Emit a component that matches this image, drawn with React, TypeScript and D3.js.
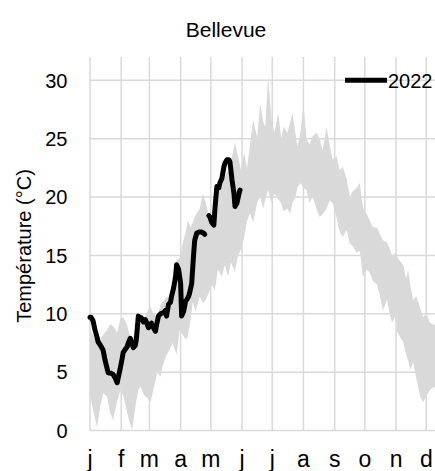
import React from "react";
import * as d3 from "d3";

// ---- data ----
const title = "Bellevue";
const yLabel = "Température (°C)";
const seriesName = "2022";
const monthLabels = ["j", "f", "m", "a", "m", "j", "j", "a", "s", "o", "n", "d"];
const yTicks = [0, 5, 10, 15, 20, 25, 30];

// climatology band (day of year, min, max)
const bandDay = [1, 4, 8, 11, 14, 18, 21, 24, 28, 31, 34, 38, 41, 43, 46, 49, 51, 55, 58, 61, 64, 68, 71, 73, 77, 80, 83, 87, 90, 93, 96, 98, 101, 103, 106, 110, 113, 116, 119, 122, 125, 128, 132, 135, 138, 141, 145, 148, 151, 154, 157, 160, 163, 167, 170, 173, 175, 178, 181, 184, 188, 191, 193, 197, 200, 202, 205, 207, 210, 213, 216, 219, 222, 226, 229, 232, 236, 239, 242, 246, 249, 252, 256, 259, 262, 266, 269, 272, 276, 279, 282, 286, 289, 292, 296, 299, 301, 304, 306, 309, 312, 315, 317, 319, 322, 325, 329, 332, 335, 339, 344, 349, 355, 365];
const bandHigh = [8.6, 8.2, 7.8, 7.8, 8.2, 8.6, 9.1, 8.9, 8.4, 9.5, 9.7, 9.0, 8.0, 7.8, 8.5, 9.8, 10.1, 9.5, 10.2, 10.6, 10.0, 9.7, 10.8, 11.0, 11.4, 11.5, 12.5, 14.6, 14.8, 16.0, 17.0, 18.0, 17.4, 17.8, 18.5, 19.0, 20.3, 19.5, 18.4, 18.3, 19.5, 20.5, 20.8, 21.8, 22.2, 23.0, 24.7, 23.5, 22.3, 23.8, 22.5, 24.5, 26.6, 25.1, 28.0, 26.5, 26.0, 30.4, 26.8, 25.5, 27.2, 25.0, 26.0, 25.5, 26.5, 27.2, 25.5, 24.3, 25.5, 28.0, 25.0, 24.5, 25.2, 25.5, 25.0, 24.0, 26.0, 24.5, 23.2, 23.5, 22.3, 22.6, 21.5, 20.0, 20.5, 20.8, 21.2, 19.1, 18.5, 18.0, 17.4, 17.4, 16.8, 16.3, 16.1, 15.5, 15.0, 15.2, 14.9, 14.5, 14.2, 13.0, 13.8, 12.5, 11.2, 11.5, 10.5, 9.7, 10.0, 9.2, 9.0, 8.5, 8.3, 8.0];
const bandLow = [3.0, 1.8, 0.3, 2.0, 3.2, 2.9, 1.5, 0.9, 2.5, 3.4, 3.0, 1.5, 0.5, 0.1, 2.0, 3.5, 3.8, 3.0, 2.8, 2.4, 3.5, 5.0, 4.6, 5.5, 6.5, 6.9, 7.5, 6.5, 8.6, 8.2, 7.8, 8.0, 9.5, 11.0, 10.2, 11.5, 10.9, 11.2, 11.8, 12.5, 12.0, 13.8, 13.2, 14.2, 13.2, 14.4, 13.6, 15.0, 15.5, 16.5, 18.0, 18.6, 17.8, 19.5, 20.0, 19.0, 19.8, 20.6, 19.5, 20.3, 19.8, 19.5, 18.8, 19.0, 18.6, 19.5, 20.0, 20.8, 21.2, 20.8, 20.6, 19.5, 20.0, 19.0, 18.3, 18.5, 19.0, 19.7, 19.5, 18.2, 17.0, 16.6, 17.2, 16.0, 15.8, 15.2, 15.4, 13.2, 13.8, 13.5, 12.8, 12.5, 11.5, 10.3, 11.2, 9.8, 9.2, 9.8, 8.5, 8.0, 7.6, 6.5, 6.0, 5.2, 5.8, 4.5, 2.9, 2.4, 3.0, 3.5, 3.8, 3.0, 2.8, 2.5];

// 2022 daily mean (day of year, value; null = missing)
const obsDay = [1, 2, 4, 6, 8, 9, 11, 14, 16, 18, 19, 22, 24, 26, 28, 29, 31, 33, 34, 38, 39, 41, 42, 44, 46, 47, 49, 51, 52, 54, 56, 57, 59, 61, 62, 64, 66, 67, 69, 71, 74, 76, 77, 79, 81, 82, 84, 86, 87, 89, 91, 92, 94, 96, 97, 99, 100, 102, 104, 105, 107, 109, 112, 114, 115, 117, 119, 120, 122, 124, 125, 127, 129, 130, 132, 134, 135, 137, 139, 140, 142, 144, 145, 147, 149, 150];
const obsValue: (number | null)[] = [9.7, 9.7, 9.4, 8.6, 8.0, 7.6, 7.35, 6.9, 6.0, 5.3, 4.95, 4.9, 4.8, 4.5, 4.1, 4.5, 5.3, 6.2, 6.7, 7.2, 7.5, 7.9, 7.6, 7.1, 7.3, 7.8, 9.8, 9.6, 9.65, 9.3, 9.5, 9.3, 8.8, 9.0, 9.2, 8.8, 8.5, 9.0, 9.8, 10.0, 10.1, 10.3, 9.8, 10.8, 11.0, 11.5, 12.2, 13.2, 14.2, 13.8, 12.6, 9.8, 10.2, 11.1, 11.2, 11.5, 11.8, 12.6, 15.2, 16.3, 16.9, 17.0, 17.0, 16.9, 16.8, null, 18.4, 18.3, 17.8, 17.6, 18.9, 20.9, 20.8, 21.2, 21.6, 22.6, 22.9, 23.2, 23.2, 23.0, 21.5, 20.3, 19.2, 19.5, 20.3, 20.6];

const W = 435;
const H = 471;
const FONT = '"Liberation Sans", Arial, Helvetica, sans-serif';

export default function App() {
  const x = d3.scaleLinear().domain([1, 366]).range([90, 457.5]);
  const y = d3.scaleLinear().domain([0, 32]).range([430.5, 57]);
  const monthStarts = d3.utcMonths(new Date(Date.UTC(2022, 0, 1)), new Date(Date.UTC(2023, 0, 1)));
  const dayOf = (d: Date) => d3.utcDay.count(new Date(Date.UTC(2022, 0, 1)), d) + 1;

  const band = bandDay.map((d, i) => ({ d, lo: bandLow[i], hi: bandHigh[i] }));
  const area = d3
    .area<{ d: number; lo: number; hi: number }>()
    .x((p) => x(p.d))
    .y0((p) => y(p.lo))
    .y1((p) => y(p.hi));

  const obs = obsDay.map((d, i) => ({ d, v: obsValue[i] }));
  const line = d3
    .line<{ d: number; v: number | null }>()
    .defined((p) => p.v !== null)
    .x((p) => x(p.d))
    .y((p) => y(p.v as number));

  const grid = "#d9d9d9";

  return (
    <svg
      width={W}
      height={H}
      style={{ position: "absolute", left: 0, top: 0, background: "#fff" }}
      fontFamily={FONT}
    >
      <rect x={0} y={0} width={W} height={H} fill="#fff" />
      <text x={226} y={37} textAnchor="middle" fontSize={21} fill="#000">
        {title}
      </text>
      {/* grid */}
      {yTicks.map((t) => (
        <line key={"h" + t} x1={90} x2={W} y1={y(t)} y2={y(t)} stroke={grid} strokeWidth={1.5} />
      ))}
      {monthStarts.map((m, i) => (
        <line
          key={"v" + i}
          x1={x(dayOf(m))}
          x2={x(dayOf(m))}
          y1={y(32)}
          y2={y(0)}
          stroke={grid}
          strokeWidth={1.5}
        />
      ))}
      {/* band */}
      <path d={area(band) || ""} fill="#d9d9d9" stroke="none" />
      {/* 2022 line */}
      <path
        d={line(obs) || ""}
        fill="none"
        stroke="#000"
        strokeWidth={5}
        strokeLinejoin="round"
        strokeLinecap="round"
      />
      {/* y tick labels */}
      {yTicks.map((t) => (
        <text key={"yt" + t} x={67.5} y={y(t) + 7.3} textAnchor="end" fontSize={20} fill="#000">
          {t}
        </text>
      ))}
      {/* x tick labels */}
      {monthStarts.map((m, i) => (
        <text key={"xt" + i} x={x(dayOf(m))} y={467} textAnchor="middle" fontSize={23} fill="#000">
          {monthLabels[i]}
        </text>
      ))}
      {/* y label */}
      <text
        transform="translate(31,246) rotate(-90)"
        textAnchor="middle"
        fontSize={20}
        fill="#000"
      >
        {yLabel}
      </text>
      {/* legend */}
      <line x1={345} x2={387} y1={y(30)} y2={y(30)} stroke="#000" strokeWidth={5} />
      <text x={388} y={y(30) + 7.3} fontSize={20} fill="#000">
        {seriesName}
      </text>
    </svg>
  );
}
